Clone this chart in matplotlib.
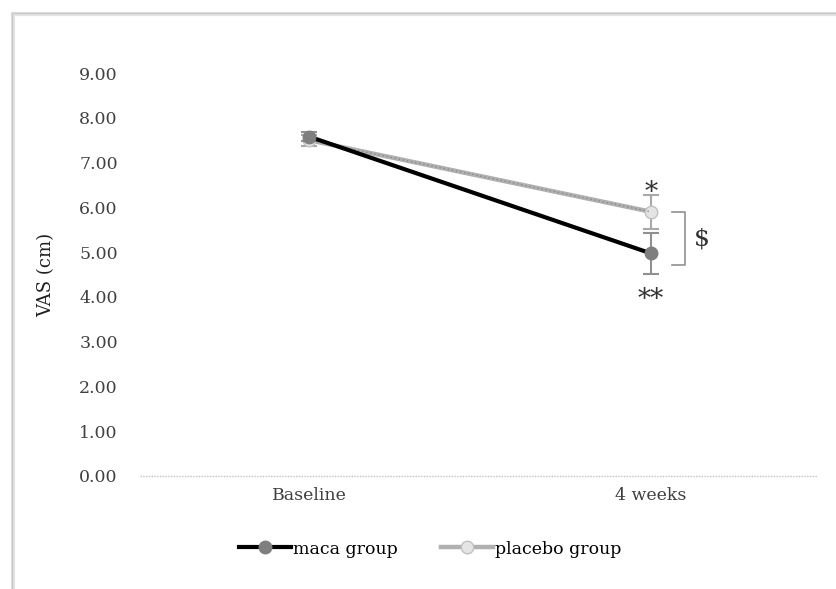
import matplotlib.pyplot as plt
from matplotlib.patches import Rectangle
from matplotlib.lines import Line2D

# data
categories = ["Baseline", "4 weeks"]
maca_mean = [7.58, 4.97]
maca_err = [0.10, 0.45]
placebo_mean = [7.50, 5.90]
placebo_err = [0.12, 0.38]
yticks = [0, 1, 2, 3, 4, 5, 6, 7, 8, 9]

plt.rcParams['font.family'] = ['DejaVu Serif']

W, H = 837, 589
fig = plt.figure(figsize=(W / 100, H / 100), dpi=100)

# outer frame with a little shadow
fig.patches.append(Rectangle((13.5 / W, -0.02), 1, 1.02 - 14 / H, transform=fig.transFigure,
                             facecolor='none', edgecolor='#e4e4e4', lw=3, zorder=-2))
fig.patches.append(Rectangle((12 / W, -0.02), 1, 1.02 - 13 / H, transform=fig.transFigure,
                             facecolor='none', edgecolor='#c8c8c8', lw=1, zorder=-1))

ax = fig.add_axes([140 / W, (H - 476) / H, 677 / W, (476 - 73) / H])
ax.set_zorder(2)
ax.patch.set_alpha(0)
x = [0, 1]

ax.errorbar(x, placebo_mean, yerr=placebo_err, color='#b0b0b0', lw=3.2,
            marker='o', ms=9, mfc='#e4e4e4', mec='#c0c0c0', ecolor='#a8a8a8',
            elinewidth=1.5, capsize=6, capthick=1.5, zorder=3)
ax.plot(x, placebo_mean, color='#888888', lw=1, ls=(0, (1, 2)), zorder=3.5)
ax.errorbar(x, maca_mean, yerr=maca_err, color='black', lw=3,
            marker='o', ms=9, mfc='#7f7f7f', mec='#7f7f7f', ecolor='#909090',
            elinewidth=1.5, capsize=6, capthick=1.5, zorder=4)

ax.set_xlim(-0.494, 1.485)
ax.set_ylim(0, 9)
ax.set_yticks(yticks)
ax.set_yticklabels([f"{v:.2f}" for v in yticks], fontsize=12.5, color='#404040')
ax.set_xticks(x)
ax.set_xticklabels(categories, fontsize=12.5, color='#404040')
ax.tick_params(length=0, pad=8)
ax.tick_params(axis='y', pad=16)
for s in ax.spines.values():
    s.set_visible(False)
ax.axhline(0, color='#c0c0c0', lw=1, ls=(0, (1, 1)), zorder=1, clip_on=False)
ax.set_ylabel("VAS (cm)", fontsize=13, color='#202020', labelpad=17)

# significance marks
ax.text(1, placebo_mean[1] + placebo_err[1] - 0.22, "*", ha='center', va='bottom',
        fontsize=19, color='#333333')
ax.text(1, maca_mean[1] - maca_err[1] - 0.3, "**", ha='center', va='top',
        fontsize=19, color='#333333')
bx0, bx1 = 1.06, 1.1
ax.plot([bx0, bx1, bx1, bx0], [5.9, 5.9, 4.72, 4.72], color='#909090', lw=1.2,
        clip_on=False)
ax.text(1.125, 5.3, "$", ha='left', va='center', fontsize=18, color='#333333')

handles = [
    Line2D([], [], color='black', lw=3, marker='o', ms=9, mfc='#7f7f7f', mec='#7f7f7f'),
    Line2D([], [], color='#b0b0b0', lw=3.2, marker='o', ms=9, mfc='#e4e4e4', mec='#c0c0c0'),
]
fig.legend(handles, ["maca group", "placebo group"], loc='center',
           bbox_to_anchor=(430 / W, (H - 549) / H), ncol=2, frameon=False,
           fontsize=12.5, handlelength=3, columnspacing=2.5, handletextpad=0.1)

fig.savefig("out.png", dpi=100)
